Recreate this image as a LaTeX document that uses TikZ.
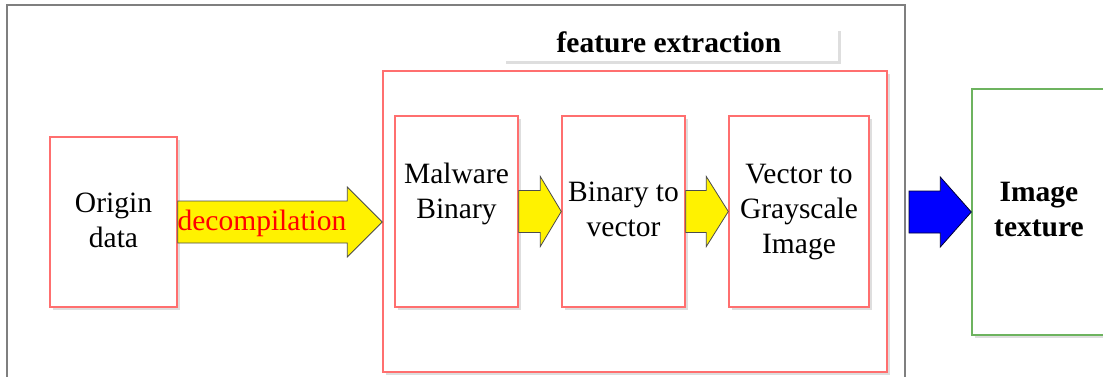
\documentclass[tikz,border=0pt]{standalone}
\usepackage{fontspec}
\setmainfont{Liberation Serif}
\newfontfamily\tnrfont{Liberation Serif}
\usetikzlibrary{calc,shadows}
\definecolor{boxred}{HTML}{FF6F6F}
\definecolor{boxgreen}{HTML}{6DB35F}
\definecolor{framegray}{HTML}{7F7F7F}
\newcommand\blockarr[6]{%
  \draw[#1] let \p1=#2, \p2=#3 in
    (\x1,\y1+#4) -- (\x2-#6,\y1+#4) -- (\x2-#6,\y1+#5) -- (\x2,\y1)
    -- (\x2-#6,\y1-#5) -- (\x2-#6,\y1-#4) -- (\x1,\y1-#4) -- cycle;}
\tikzset{
  redbox/.style={draw=boxred, line width=1.4pt, fill=white, rectangle, inner sep=0pt,
    drop shadow={shadow xshift=3pt, shadow yshift=-3pt, fill=black!13, opacity=1}},
  greenbox/.style={draw=boxgreen, line width=1.4pt, fill=white, rectangle, inner sep=0pt,
    drop shadow={shadow xshift=3pt, shadow yshift=-3pt, fill=black!13, opacity=1}},
  labelbox/.style={fill=white, rectangle, inner sep=0pt,
    drop shadow={shadow xshift=3pt, shadow yshift=-3pt, fill=black!13, opacity=1}},
  txt/.style={inner sep=0pt, align=center, font=\tnrfont\fontsize{29.5}{35}\selectfont},
  btxt/.style={txt, font=\tnrfont\fontsize{29.5}{35}\selectfont\bfseries},
  yarrow/.style={fill=yellow, draw=black!70, line width=0.8pt},
  barrow/.style={fill=blue, draw=black!80!blue, line width=0.8pt},
}
\begin{document}
\begin{tikzpicture}[x=1pt,y=-1pt]
\useasboundingbox (0,0) rectangle (1103,376);
\clip (0,0) rectangle (1103,376);
% outer frame
\draw[framegray, line width=1.6pt] (7,385) -- (7,5) -- (905,5) -- (905,385);
% feature extraction label
\node[labelbox, minimum width=335pt, minimum height=33pt] (felab) at (670.5,44.5) {};
\node[btxt] (fetxt) at (669,42.5) {feature extraction};
% big box
\node[redbox, minimum width=504pt, minimum height=301pt] (fe) at (635,221.5) {};
% origin
\node[redbox, minimum width=127pt, minimum height=170pt] (orig) at (113.5,222) {};
\node[txt] (origt) at (113.5,220) {Origin\\data};
% inner boxes
\node[redbox, minimum width=123pt, minimum height=191pt] (mal) at (456.5,211.5) {};
\node[txt] (malt) at (456.5,194) {Malware\\Binary};
\node[redbox, minimum width=123pt, minimum height=191pt] (btv) at (623.5,211.5) {};
\node[txt] (btvt) at (623.5,209.5) {Binary to\\vector};
\node[redbox, minimum width=140pt, minimum height=191pt] (vtg) at (799,211.5) {};
\node[txt] (vtgt) at (799,212.5) {Vector to\\Grayscale\\Image};
% image texture
\node[greenbox, minimum width=150pt, minimum height=246pt] (img) at (1047,212) {};
\node[btxt] (imgt) at (1039,210) {Image\\texture};
% arrows
\blockarr{yarrow}{(orig.east)}{(fe.west)}{21}{35}{35}
\node[txt, text=red] (dect) at (262,223.5) {decompilation};
\blockarr{yarrow}{(mal.east)}{(btv.west)}{21}{35}{21}
\blockarr{yarrow}{(btv.east)}{(vtg.west)}{21}{35}{22}
\coordinate (bstart) at (909,212);
\blockarr{barrow}{(bstart)}{(img.west)}{21}{35}{31}
\end{tikzpicture}
\end{document}
